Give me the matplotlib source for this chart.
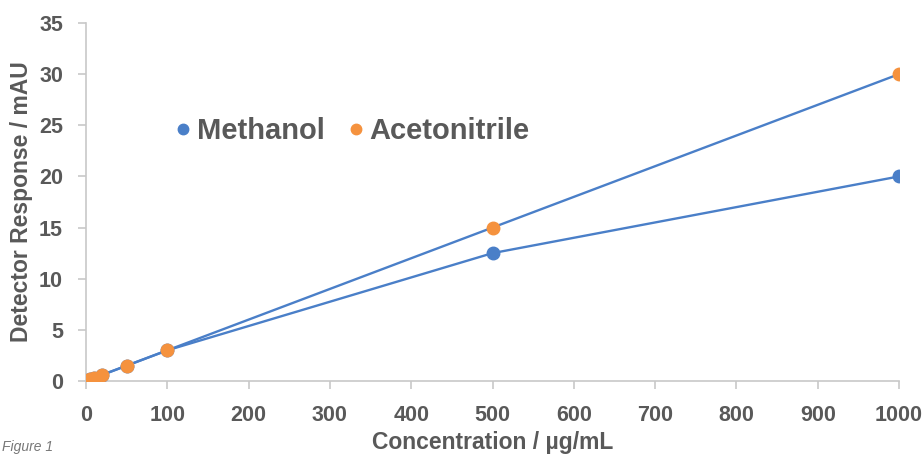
import matplotlib
matplotlib.use("Agg")
import matplotlib.pyplot as plt
from matplotlib.lines import Line2D

conc = [1, 5, 10, 20, 50, 100, 500, 1000]
methanol = [0.03, 0.15, 0.3, 0.6, 1.5, 3.0, 12.5, 20.0]
acetonitrile = [0.03, 0.15, 0.3, 0.6, 1.5, 3.0, 15.0, 30.0]
xticks = [0, 100, 200, 300, 400, 500, 600, 700, 800, 900, 1000]
yticks = [0, 5, 10, 15, 20, 25, 30, 35]

BLUE = "#4A7FC8"
ORANGE = "#F5923E"
TXT = "#595959"
AX = "#C8C8C8"

plt.rcParams["font.family"] = ["Liberation Sans", "DejaVu Sans"]

fig = plt.figure(figsize=(9.24, 4.55), dpi=100)
ax = fig.add_axes([86/924, 1-381/455, (899-86)/924, (381-23)/455])

ax.plot(conc, methanol, color=BLUE, lw=1.7, zorder=2)
ax.plot(conc, acetonitrile, color=BLUE, lw=1.7, zorder=2)
ax.plot(conc, methanol, 'o', color=BLUE, ms=9, zorder=3)
ax.plot(conc, acetonitrile, 'o', color=ORANGE, ms=9, zorder=4)

ax.set_xlim(0, 1000)
ax.set_ylim(0, 35)
ax.set_xticks(xticks)
ax.set_yticks(yticks)
ax.spines["top"].set_visible(False)
ax.spines["right"].set_visible(False)
for s in ("left", "bottom"):
    ax.spines[s].set_color(AX)
    ax.spines[s].set_linewidth(1.2)
ax.tick_params(axis="both", colors=AX, length=6, width=1.2, direction="out")
ax.tick_params(axis="y", pad=10.5)
ax.tick_params(axis="x", pad=11)
for lab in ax.get_xticklabels() + ax.get_yticklabels():
    lab.set_color(TXT)
    lab.set_fontsize(15.5)
    lab.set_fontweight("bold")
ax.set_ylabel("Detector Response / mAU", fontsize=16.5, fontweight="bold", color=TXT)
ax.set_xlabel("Concentration / µg/mL", fontsize=16.5, fontweight="bold", color=TXT)
ax.yaxis.set_label_coords(-(86-22)/813, 0.5)
ax.xaxis.set_label_coords(0.5, -(443-381)/358)
ax.xaxis.label.set_va("center")
ax.yaxis.label.set_va("center")

handles = [Line2D([], [], marker='o', ls='none', color=BLUE, ms=7.5),
           Line2D([], [], marker='o', ls='none', color=ORANGE, ms=7.5)]
leg = ax.legend(handles, ["Methanol", "Acetonitrile"], loc="center left",
                bbox_to_anchor=((176-86)/813, (381-131)/358), ncol=2, frameon=False,
                borderpad=0, borderaxespad=0,
                handletextpad=0.22, columnspacing=0.8, handlelength=0.5,
                prop={"size": 21, "weight": "bold"})
for t in leg.get_texts():
    t.set_color(TXT)

fig.text(0.002, 1/455, "Figure 1", fontsize=10, style="italic", color="#777777", va="bottom")

fig.savefig("out.png", dpi=100)
